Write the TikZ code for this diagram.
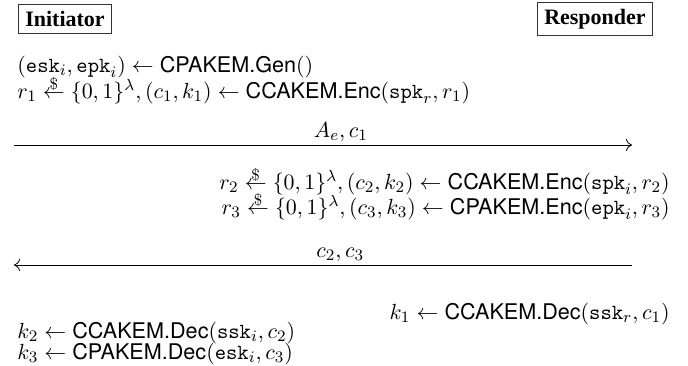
\documentclass[tikz,border=0pt]{standalone}
\usepackage{fontspec}
\setsansfont{TeX Gyre Heros}
\newfontfamily\headfont{Liberation Serif}
\usetikzlibrary{arrows.meta}
\newcommand{\algo}[1]{\textsf{#1}}
\newcommand{\samp}{\mathrel{\ooalign{$\leftarrow$\cr\hfil\raisebox{4.2pt}{$\scriptstyle\$$}\hfil\cr}}}
\begin{document}
\begin{tikzpicture}[x=0.5pt,y=-0.5pt,
  party/.style={draw=black!80, line width=0.5pt, inner sep=3.2pt, font=\headfont\bfseries\fontsize{11}{13}\selectfont},
  txt/.style={inner sep=0pt, font=\fontsize{10.8}{13}\selectfont},
  msg/.style={line width=0.4pt, -{Computer Modern Rightarrow[length=3pt,width=6pt]}},
  lbl/.style={inner sep=0pt, font=\fontsize{10.8}{13}\selectfont}
]
\useasboundingbox (0,0) rectangle (688,365);
\node[party] (ini) at (65,19) {Initiator};
\node[party] (res) at (595,19) {Responder};

\node[txt, anchor=base west] (l1) at (17,72) {$(\mathtt{esk}_i,\mathtt{epk}_i)\leftarrow\algo{CPAKEM.Gen}()$};
\node[txt, anchor=base west] (l2) at (17,98) {$r_1\samp\{0,1\}^\lambda,(c_1,k_1)\leftarrow\algo{CCAKEM.Enc}(\mathtt{spk}_r,r_1)$};

\coordinate (m1s) at (14,145);
\coordinate (m1e) at (632,145);
\draw[msg] (m1s) -- node[lbl, pos=0.529, above=1.5pt] (m1l) {$A_e,c_1$} (m1e);

\node[txt, anchor=base east] (r2) at (670,189) {$r_2\samp\{0,1\}^\lambda,(c_2,k_2)\leftarrow\algo{CCAKEM.Enc}(\mathtt{spk}_i,r_2)$};
\node[txt, anchor=base east] (r3) at (670,214) {$r_3\samp\{0,1\}^\lambda,(c_3,k_3)\leftarrow\algo{CPAKEM.Enc}(\mathtt{epk}_i,r_3)$};

\coordinate (m2s) at (632,265);
\coordinate (m2e) at (14,265);
\draw[msg] (m2s) -- node[lbl, pos=0.472, above=1.5pt] (m2l) {$c_2,c_3$} (m2e);

\node[txt, anchor=base east] (k1) at (670,319) {$k_1\leftarrow\algo{CCAKEM.Dec}(\mathtt{ssk}_r,c_1)$};
\node[txt, anchor=base west] (k2) at (17,338) {$k_2\leftarrow\algo{CCAKEM.Dec}(\mathtt{ssk}_i,c_2)$};
\node[txt, anchor=base west] (k3) at (17,359) {$k_3\leftarrow\algo{CPAKEM.Dec}(\mathtt{esk}_i,c_3)$};
\end{tikzpicture}
\end{document}
